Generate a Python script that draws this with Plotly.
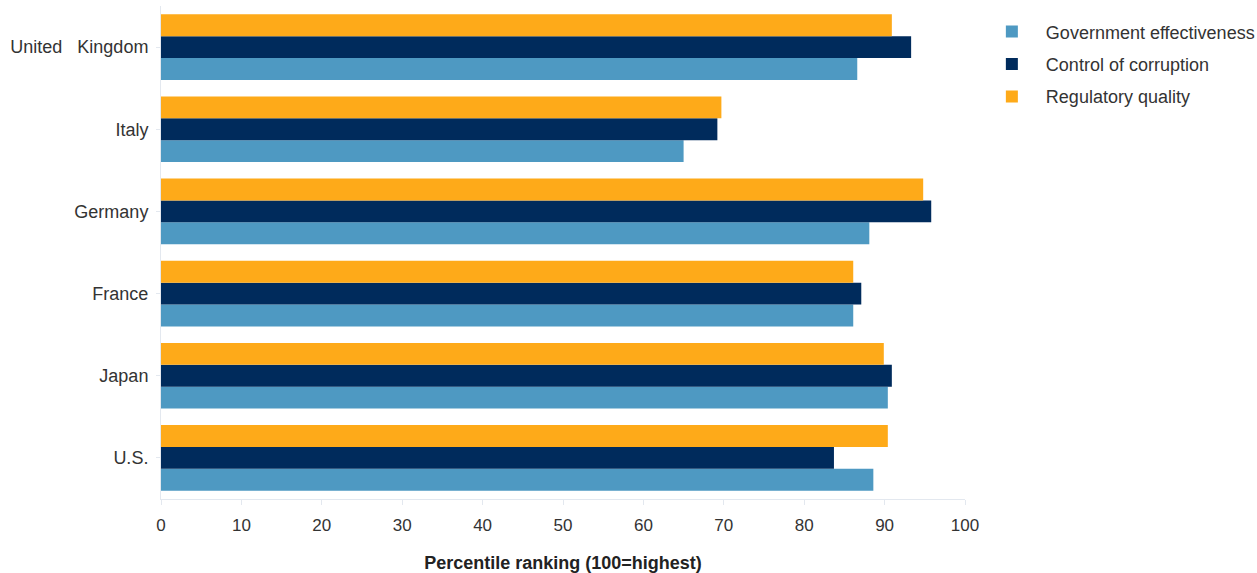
import plotly.graph_objects as go

countries = ["U.S.", "Japan", "France", "Germany", "Italy", "United\u00a0\u00a0\u00a0Kingdom"]
gov_effectiveness = [88.6, 90.4, 86.1, 88.1, 65.0, 86.6]
control_corruption = [83.7, 90.9, 87.1, 95.8, 69.2, 93.3]
regulatory_quality = [90.4, 89.9, 86.1, 94.8, 69.7, 90.9]
x_ticks = [0, 10, 20, 30, 40, 50, 60, 70, 80, 90, 100]

series = [
    ("Government effectiveness", gov_effectiveness, "#4E99C2"),
    ("Control of corruption", control_corruption, "#002B5C"),
    ("Regulatory quality", regulatory_quality, "#FEAA19"),
]

fig = go.Figure()
for i, (name, vals, color) in enumerate(series):
    fig.add_trace(go.Bar(
        y=countries, x=vals, name=name, orientation="h",
        marker=dict(color=color, line=dict(width=0)),
        legendgroup=f"g{i}",
    ))

fig.update_layout(
    width=1257, height=573,
    barmode="group", bargap=0.2, bargroupgap=0,
    plot_bgcolor="white", paper_bgcolor="white",
    font=dict(family="Liberation Sans, Arial, sans-serif", size=18, color="#333333"),
    margin=dict(l=161, r=292, t=6, b=74, autoexpand=False),
    legend=dict(
        x=1.016, y=0.985, xanchor="left", yanchor="top",
        traceorder="grouped", tracegroupgap=6,
        font=dict(size=18, color="#333333"),
        itemwidth=58, bgcolor="rgba(0,0,0,0)",
    ),
    xaxis=dict(
        range=[0, 100], tickvals=x_ticks, showgrid=False, zeroline=False,
        showline=True, linecolor="#E3E8EF", linewidth=1,
        ticks="outside", tickcolor="#E3E8EF", ticklen=5,
        tickfont=dict(size=17, color="#333333"),
        ticklabelstandoff=6, automargin=False,
        title=dict(text="<b>Percentile ranking (100=highest)</b>",
                   font=dict(size=18, color="#222222"), standoff=24),
    ),
    yaxis=dict(
        showgrid=False, zeroline=False,
        showline=True, linecolor="#E3E8EF", linewidth=1,
        ticks="outside", tickcolor="#E3E8EF", ticklen=4,
        tickfont=dict(size=18, color="#333333"),
        ticklabelstandoff=4, automargin=False,
    ),
)

fig.write_html("out.html", config={"displayModeBar": False},
               post_script="document.body.style.margin='0px';")
